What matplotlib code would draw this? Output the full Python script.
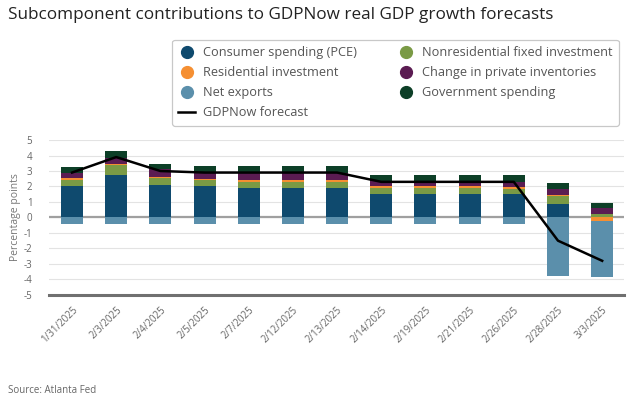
import matplotlib
matplotlib.use("Agg")
import matplotlib.pyplot as plt
from matplotlib.lines import Line2D
import numpy as np

plt.rcParams['font.family'] = ['Open Sans', 'DejaVu Sans']

dates = ["1/31/2025", "2/3/2025", "2/4/2025", "2/5/2025", "2/7/2025", "2/12/2025",
         "2/13/2025", "2/14/2025", "2/19/2025", "2/21/2025", "2/26/2025", "2/28/2025", "3/3/2025"]
pce      = [2.04, 2.73, 2.08, 2.04, 1.91, 1.91, 1.91, 1.50, 1.50, 1.50, 1.50, 0.86, 0.00]
nonres   = [0.39, 0.64, 0.48, 0.39, 0.39, 0.39, 0.39, 0.41, 0.41, 0.41, 0.37, 0.54, 0.21]
resid    = [0.09, 0.09, 0.06, 0.07, 0.10, 0.10, 0.10, 0.09, 0.09, 0.09, 0.09, 0.06, -0.22]
invent   = [0.34, 0.39, 0.50, 0.44, 0.49, 0.49, 0.49, 0.36, 0.36, 0.36, 0.34, 0.37, 0.37]
govt     = [0.39, 0.43, 0.32, 0.37, 0.42, 0.42, 0.42, 0.37, 0.37, 0.37, 0.43, 0.38, 0.36]
netexp   = [-0.41, -0.41, -0.41, -0.41, -0.41, -0.41, -0.41, -0.41, -0.41, -0.41, -0.41, -3.77, -3.61]
gdpnow   = [2.9, 3.9, 3.0, 2.9, 2.9, 2.9, 2.9, 2.3, 2.3, 2.3, 2.3, -1.5, -2.8]

series = [
    ("Consumer spending (PCE)", pce, "#0f4a6e"),
    ("Nonresidential fixed investment", nonres, "#7a9a45"),
    ("Residential investment", resid, "#f58f32"),
    ("Change in private inventories", invent, "#5b1c52"),
    ("Government spending", govt, "#0d3f27"),
    ("Net exports", netexp, "#5b8fab"),
]

fig = plt.figure(figsize=(6.37, 3.99), dpi=100)
ax = fig.add_axes([0.077, 0.261, 0.903, 0.388])

x = np.arange(len(dates))
pos_base = np.zeros(len(dates))
neg_base = np.zeros(len(dates))
for name, vals, col in series:
    v = np.array(vals, dtype=float)
    bottoms = np.where(v >= 0, pos_base, neg_base)
    ax.bar(x, v, width=0.5, bottom=bottoms, color=col, zorder=3, linewidth=0)
    pos_base = pos_base + np.where(v >= 0, v, 0)
    neg_base = neg_base + np.where(v < 0, v, 0)

ax.plot(x, gdpnow, color="black", lw=1.8, zorder=5)

ax.set_xlim(-0.52, 12.5)
ax.set_ylim(-5, 5)
ax.set_yticks(range(-5, 6))
ax.set_yticklabels([str(i) for i in range(-5, 6)])
for yv in range(-4, 6):
    ax.axhline(yv, color="#e3e3e3", lw=0.8, zorder=1)
ax.axhline(0, color="#a0a0a0", lw=1.6, zorder=2)
ax.axhline(-5, color="#707070", lw=2.2, zorder=4, clip_on=False)
for s in ax.spines.values():
    s.set_visible(False)
ax.tick_params(axis='both', length=0, labelsize=7, colors="#666666")
ax.tick_params(axis='y', pad=12)
ax.set_xticks(x)
ax.set_xticklabels(dates, rotation=45, ha="right", rotation_mode="anchor")
ax.tick_params(axis='x', pad=7)
ax.set_ylabel("Percentage points", fontsize=7.5, color="#777777", labelpad=2)

fig.text(0.012, 0.962, "Subcomponent contributions to GDPNow real GDP growth forecasts",
         fontsize=12.3, color="#222222", va="center", ha="left")
fig.text(0.012, 0.022, "Source: Atlanta Fed", fontsize=7, color="#666666", ha="left", va="center")

def dot(c):
    return Line2D([], [], marker="o", linestyle="none", markersize=8.5, markerfacecolor=c,
                  markeredgecolor=c)
handles = [dot("#0f4a6e"), dot("#f58f32"), dot("#5b8fab"),
           Line2D([], [], color="black", lw=1.8),
           dot("#7a9a45"), dot("#5b1c52"), dot("#0d3f27")]
labels = ["Consumer spending (PCE)", "Residential investment", "Net exports", "GDPNow forecast",
          "Nonresidential fixed investment", "Change in private inventories", "Government spending"]
leg = fig.legend(handles, labels, ncol=2, loc="upper left",
                 bbox_to_anchor=(0.27, 0.9), borderaxespad=0, fontsize=9.2, frameon=True,
                 fancybox=True, edgecolor="#bbbbbb", handlelength=1.3, handletextpad=0.6,
                 columnspacing=3.2, labelspacing=0.55, borderpad=0.5, labelcolor="#555555")
leg.get_frame().set_linewidth(0.9)

fig.savefig("out.png", dpi=100)
